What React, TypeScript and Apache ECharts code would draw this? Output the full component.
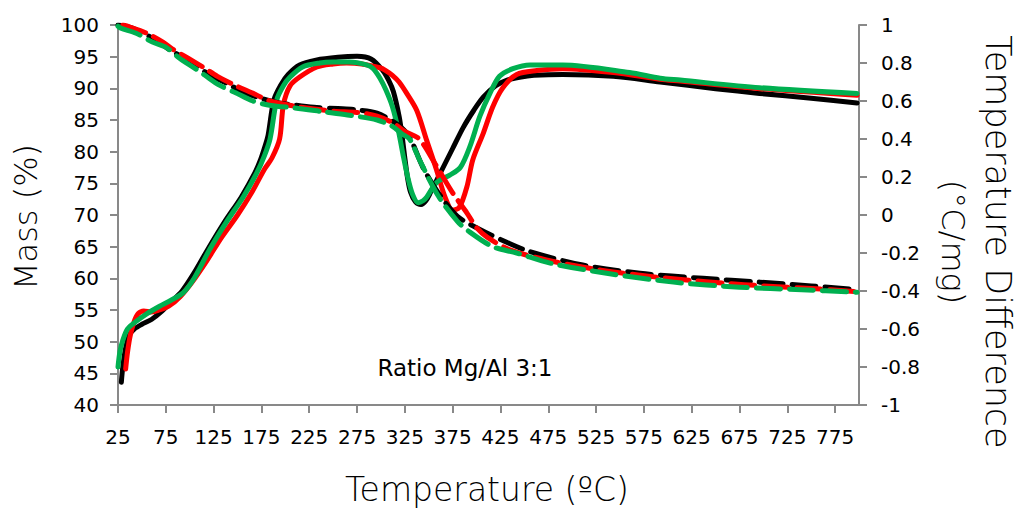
import React, { useEffect, useRef } from "react";
import * as echarts from "echarts";

// Temperature difference (DTA) curves: [temperature °C, °C/mg]
const dtaBlack: [number, number][] = [
  [28.5, -0.88], [30, -0.8], [33, -0.7], [37, -0.63], [42, -0.6], [50, -0.575], [60, -0.55], [70, -0.51],
  [80, -0.46], [92, -0.4], [104, -0.31], [119, -0.18], [136, -0.04], [154, 0.095], [168, 0.22], [174, 0.29],
  [178, 0.35], [182, 0.42], [188, 0.605], [196, 0.69], [203, 0.74], [215, 0.79], [232, 0.815], [255, 0.83],
  [275, 0.835], [290, 0.82], [302, 0.76], [308, 0.71], [313, 0.65], [319, 0.52], [322, 0.42], [325, 0.3],
  [328, 0.19], [331, 0.12], [336, 0.07], [342, 0.055], [347, 0.075], [352, 0.12], [358, 0.18], [365, 0.25],
  [375, 0.35], [386, 0.46], [397, 0.55], [407, 0.62], [420, 0.68], [432, 0.71], [445, 0.725], [460, 0.735],
  [490, 0.74], [543, 0.73], [592, 0.7], [650, 0.665], [696, 0.64], [750, 0.615], [798, 0.59],
];
const dtaRed: [number, number][] = [
  [33, -0.81], [35, -0.72], [38, -0.63], [42, -0.56], [46, -0.52], [52, -0.505], [60, -0.51], [68, -0.5],
  [78, -0.48], [90, -0.43], [103, -0.35], [118, -0.24], [133, -0.12], [150, 0.0], [165, 0.12], [178, 0.24],
  [186, 0.3], [194, 0.4], [198, 0.58], [205, 0.68], [215, 0.726], [233, 0.779], [250, 0.795], [264, 0.8],
  [280, 0.795], [299, 0.775], [305, 0.76], [312, 0.735], [319, 0.7], [327, 0.64], [337.5, 0.55], [348, 0.39],
  [358, 0.24], [367, 0.095], [375, 0.026], [382, 0.04], [390, 0.15], [396, 0.29], [407, 0.43], [417, 0.57],
  [427.5, 0.67], [442, 0.74], [463, 0.76], [490, 0.77], [543, 0.75], [592, 0.715], [613, 0.705], [696, 0.665],
  [798, 0.63],
];
const dtaGreen: [number, number][] = [
  [25, -0.8], [27, -0.72], [30, -0.66], [35, -0.6], [44, -0.56], [55, -0.52], [68.5, -0.48], [80, -0.45],
  [93, -0.41], [105, -0.33], [121, -0.18], [138, -0.04], [156, 0.095], [170, 0.22], [178, 0.31], [184, 0.4],
  [191, 0.605], [198, 0.68], [205, 0.726], [218, 0.779], [236, 0.8], [250, 0.805], [267, 0.805], [285, 0.79],
  [292, 0.77], [299, 0.72], [305, 0.66], [312, 0.57], [318, 0.45], [323, 0.32], [328, 0.2], [333, 0.11],
  [339, 0.065], [344, 0.075], [348, 0.095], [358, 0.17], [372, 0.21], [383, 0.25], [393, 0.36], [403.5, 0.52],
  [414, 0.64], [424, 0.73], [438, 0.77], [456, 0.79], [490, 0.79], [560, 0.75], [592, 0.72], [613, 0.71],
  [696, 0.67], [798, 0.64],
];

// Mass (TG) curves: [temperature °C, mass %]
const tgBlack: [number, number][] = [
  [25, 100], [40, 99.5], [60, 98.0], [80, 96.0], [100, 94.3], [121, 92.1], [138.5, 90.8], [156, 89.4],
  [173, 88.5], [190, 87.8], [207, 87.4], [230, 87.0], [255, 86.8], [275, 86.6], [296, 86.1], [310, 85.0],
  [320, 84.0], [330, 82.3], [344, 77.5], [360, 73.5], [380, 69.8], [405, 67.6], [431.5, 65.7], [456, 64.2],
  [511, 62.1], [571, 60.8], [637, 60.0], [696, 59.4], [750, 58.8], [798, 58.2],
];
const tgRed: [number, number][] = [
  [30, 100], [37, 99.7], [55, 98.7], [72, 97.3], [82, 96.2], [100, 94.6], [115.5, 93.2], [129, 91.9],
  [147, 90.5], [165, 89.3], [184, 88.0], [213, 87.1], [250, 86.4], [275, 86.2], [296, 85.6], [313, 84.5],
  [325, 83.2], [340, 82.0], [357, 78.0], [375, 73.5], [390, 70.3], [400, 68.0], [411, 66.5], [435, 64.5],
  [473, 62.9], [530, 61.3], [600, 60.0], [680, 59.0], [750, 58.4], [798, 57.9],
];
const tgGreen: [number, number][] = [
  [25, 99.8], [28, 99.5], [44, 98.7], [61, 97.3], [76, 96.4], [89, 94.8], [105, 93.2], [115.5, 92.1],
  [131, 90.5], [148, 89.3], [166, 88.0], [185, 87.3], [210, 86.9], [240, 86.3], [265, 85.8], [296, 85.0],
  [312, 84.0], [322, 82.8], [330, 82.0], [341, 78.5], [360, 73.0], [380, 69.0], [393, 67.3], [417, 65.0],
  [442, 64.0], [477, 62.4], [536, 60.8], [606, 59.4], [675, 58.6], [740, 58.2], [798, 57.8],
];

// Axis tick labels
const xTickValues: number[] = [25, 75, 125, 175, 225, 275, 325, 375, 425, 475, 525, 575, 625, 675, 725, 775];

const BLACK = "#000000";
const RED = "#ff0000";
const GREEN = "#00b050";
const AXIS = "#898989";
const FONT = "DejaVu Sans";

export default function App() {
  const ref = useRef<HTMLDivElement>(null);

  useEffect(() => {
    if (!ref.current) return;
    const chart = echarts.init(ref.current, null, { renderer: "svg" });

    const axisCommon = {
      axisLine: { show: true, onZero: false, lineStyle: { color: AXIS, width: 2 } },
      axisTick: { show: true, inside: false, length: 8, lineStyle: { color: AXIS, width: 2 } },
      splitLine: { show: false },
    };

    const dta = (data: [number, number][], color: string) => ({
      type: "line",
      yAxisIndex: 1,
      data,
      smooth: 0.3,
      showSymbol: false,
      symbol: "none",
      lineStyle: { color, width: 5, cap: "round", join: "round" },
      z: 2,
    });
    const tg = (data: [number, number][], color: string) => ({
      type: "line",
      yAxisIndex: 0,
      data,
      smooth: 0.3,
      showSymbol: false,
      symbol: "none",
      lineStyle: { color, width: 5, type: [24, 9], cap: "round", join: "round" },
      z: 3,
    });

    const titleStyle = { fontFamily: FONT, fontWeight: 300, fill: "#000", align: "center", verticalAlign: "middle" };

    chart.setOption({
      animation: false,
      backgroundColor: "#ffffff",
      grid: { left: 118, right: 158, top: 25, bottom: 104, containLabel: false, outerBoundsMode: "none" },
      xAxis: {
        type: "value",
        min: 25,
        max: 800,
        ...axisCommon,
        axisTick: { ...axisCommon.axisTick, customValues: xTickValues },
        axisLabel: {
          customValues: xTickValues,
          color: "#000",
          fontFamily: FONT,
          fontSize: 20,
          margin: 22,
        },
      },
      yAxis: [
        {
          type: "value",
          min: 40,
          max: 100,
          interval: 5,
          position: "left",
          ...axisCommon,
          axisLabel: { color: "#000", fontFamily: FONT, fontSize: 20, margin: 19 },
        },
        {
          type: "value",
          min: -1,
          max: 1,
          interval: 0.2,
          position: "right",
          ...axisCommon,
          axisLabel: {
            color: "#000",
            fontFamily: FONT,
            fontSize: 20,
            margin: 22,
            formatter: (v: number) => String(parseFloat(v.toFixed(1))),
          },
        },
      ],
      graphic: [
        {
          type: "text",
          x: 26,
          y: 217,
          rotation: Math.PI / 2,
          style: { ...titleStyle, text: "Mass (%)", fontSize: 32 },
        },
        {
          type: "text",
          x: 487,
          y: 489,
          style: { ...titleStyle, text: "Temperature (ºC)", fontSize: 33 },
        },
        {
          type: "text",
          x: 998,
          y: 242,
          rotation: -Math.PI / 2,
          style: { ...titleStyle, text: "Temperature Difference", fontSize: 35 },
        },
        {
          type: "text",
          x: 953,
          y: 242,
          rotation: -Math.PI / 2,
          style: { ...titleStyle, text: "(°C/mg)", fontSize: 32 },
        },
        {
          type: "text",
          x: 465,
          y: 368,
          style: { text: "Ratio Mg/Al 3:1", fontFamily: FONT, fontSize: 23, fill: "#000", align: "center", verticalAlign: "middle" },
        },
      ],
      series: [
        dta(dtaBlack, BLACK),
        dta(dtaRed, RED),
        dta(dtaGreen, GREEN),
        tg(tgBlack, BLACK),
        tg(tgRed, RED),
        tg(tgGreen, GREEN),
      ],
    });

    return () => chart.dispose();
  }, []);

  return (
    <div
      ref={ref}
      style={{ position: "fixed", left: 0, top: 0, width: 1017, height: 509, background: "#fff" }}
    />
  );
}
